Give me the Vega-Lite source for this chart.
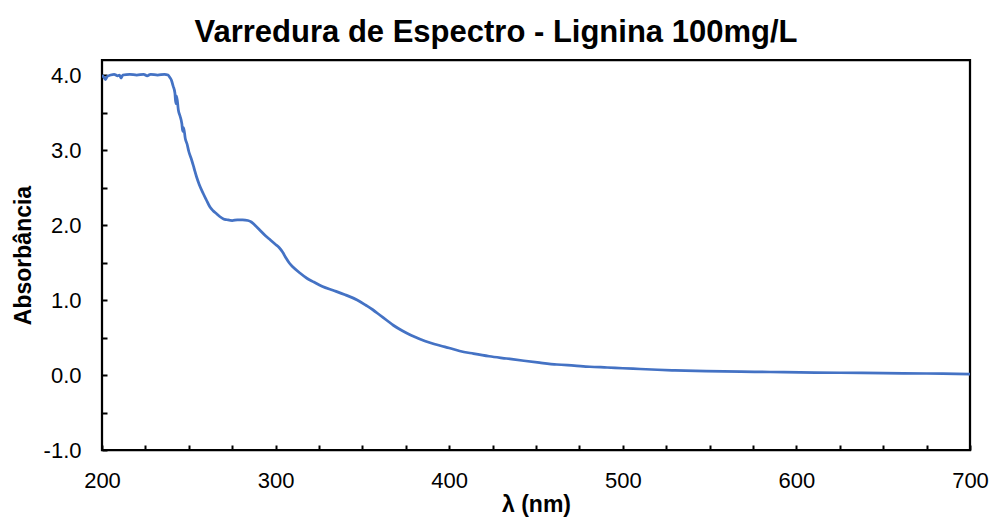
{
  "$schema": "https://vega.github.io/schema/vega-lite/v6.json",
  "width": 868,
  "height": 390,
  "autosize": "none",
  "padding": {"left": 102, "top": 60, "right": 22, "bottom": 68},
  "background": "white",
  "title": {
    "text": "Varredura de Espectro - Lignina 100mg/L",
    "font": "Liberation Sans",
    "fontSize": 31,
    "fontWeight": "bold",
    "color": "black",
    "anchor": "middle",
    "offset": 11,
    "dx": -40
  },
  "config": {
    "view": {"stroke": "black", "strokeWidth": 2.25},
    "axis": {
      "domain": false,
      "grid": false,
      "ticks": true,
      "tickSize": -5,
      "tickWidth": 2,
      "tickColor": "black",
      "labelFont": "Liberation Sans",
      "labelFontSize": 22,
      "labelColor": "black",
      "labelOverlap": false,
      "labelBound": false,
      "titleFont": "Liberation Sans",
      "titleFontSize": 23,
      "titleFontWeight": "bold",
      "titleColor": "black"
    }
  },
  "data": {
    "values": [
      {"wavelength": 200, "absorbance": 4.0},
      {"wavelength": 201, "absorbance": 3.97},
      {"wavelength": 202, "absorbance": 3.94},
      {"wavelength": 203, "absorbance": 3.98},
      {"wavelength": 205, "absorbance": 4.0},
      {"wavelength": 207, "absorbance": 4.01},
      {"wavelength": 209, "absorbance": 3.99},
      {"wavelength": 210, "absorbance": 4.0},
      {"wavelength": 211, "absorbance": 3.96},
      {"wavelength": 212, "absorbance": 4.0},
      {"wavelength": 216, "absorbance": 4.01},
      {"wavelength": 220, "absorbance": 4.0},
      {"wavelength": 224, "absorbance": 4.01},
      {"wavelength": 226, "absorbance": 3.99},
      {"wavelength": 228, "absorbance": 4.01},
      {"wavelength": 232, "absorbance": 4.0},
      {"wavelength": 236, "absorbance": 4.01},
      {"wavelength": 238, "absorbance": 4.0},
      {"wavelength": 239, "absorbance": 3.97},
      {"wavelength": 240, "absorbance": 3.93},
      {"wavelength": 241, "absorbance": 3.85},
      {"wavelength": 242, "absorbance": 3.76},
      {"wavelength": 242.5, "absorbance": 3.62},
      {"wavelength": 243, "absorbance": 3.72},
      {"wavelength": 244, "absorbance": 3.53},
      {"wavelength": 245, "absorbance": 3.45},
      {"wavelength": 246, "absorbance": 3.35},
      {"wavelength": 246.5, "absorbance": 3.25},
      {"wavelength": 247, "absorbance": 3.3},
      {"wavelength": 248, "absorbance": 3.15},
      {"wavelength": 249, "absorbance": 3.08},
      {"wavelength": 250, "absorbance": 2.98},
      {"wavelength": 251.6, "absorbance": 2.87},
      {"wavelength": 253, "absorbance": 2.76},
      {"wavelength": 254.5, "absorbance": 2.64},
      {"wavelength": 256, "absorbance": 2.54},
      {"wavelength": 258.3, "absorbance": 2.42},
      {"wavelength": 260, "absorbance": 2.34},
      {"wavelength": 262.2, "absorbance": 2.24},
      {"wavelength": 264, "absorbance": 2.19},
      {"wavelength": 266, "absorbance": 2.15},
      {"wavelength": 268, "absorbance": 2.11},
      {"wavelength": 270, "absorbance": 2.08},
      {"wavelength": 272, "absorbance": 2.07},
      {"wavelength": 275, "absorbance": 2.06},
      {"wavelength": 278, "absorbance": 2.07},
      {"wavelength": 281, "absorbance": 2.07},
      {"wavelength": 284, "absorbance": 2.06},
      {"wavelength": 286, "absorbance": 2.04},
      {"wavelength": 288, "absorbance": 2.0},
      {"wavelength": 291, "absorbance": 1.93},
      {"wavelength": 294, "absorbance": 1.86},
      {"wavelength": 297, "absorbance": 1.8},
      {"wavelength": 300, "absorbance": 1.74},
      {"wavelength": 302, "absorbance": 1.7},
      {"wavelength": 304, "absorbance": 1.64},
      {"wavelength": 306, "absorbance": 1.56},
      {"wavelength": 308, "absorbance": 1.49},
      {"wavelength": 310, "absorbance": 1.44},
      {"wavelength": 314, "absorbance": 1.36},
      {"wavelength": 318, "absorbance": 1.29},
      {"wavelength": 322, "absorbance": 1.24},
      {"wavelength": 327, "absorbance": 1.18},
      {"wavelength": 333, "absorbance": 1.13},
      {"wavelength": 340, "absorbance": 1.07},
      {"wavelength": 347, "absorbance": 1.0},
      {"wavelength": 352, "absorbance": 0.93},
      {"wavelength": 356, "absorbance": 0.87},
      {"wavelength": 360, "absorbance": 0.8},
      {"wavelength": 364, "absorbance": 0.73},
      {"wavelength": 368, "absorbance": 0.66},
      {"wavelength": 373, "absorbance": 0.59},
      {"wavelength": 378, "absorbance": 0.53},
      {"wavelength": 383, "absorbance": 0.48},
      {"wavelength": 389, "absorbance": 0.43},
      {"wavelength": 395, "absorbance": 0.39},
      {"wavelength": 400, "absorbance": 0.36},
      {"wavelength": 406, "absorbance": 0.32},
      {"wavelength": 414, "absorbance": 0.285},
      {"wavelength": 423, "absorbance": 0.25},
      {"wavelength": 433, "absorbance": 0.22},
      {"wavelength": 443, "absorbance": 0.19},
      {"wavelength": 452, "absorbance": 0.165},
      {"wavelength": 462, "absorbance": 0.14},
      {"wavelength": 472, "absorbance": 0.125},
      {"wavelength": 481, "absorbance": 0.11},
      {"wavelength": 491, "absorbance": 0.1},
      {"wavelength": 500, "absorbance": 0.09},
      {"wavelength": 510, "absorbance": 0.08},
      {"wavelength": 520, "absorbance": 0.07},
      {"wavelength": 530, "absorbance": 0.062},
      {"wavelength": 548, "absorbance": 0.052},
      {"wavelength": 568, "absorbance": 0.045},
      {"wavelength": 585, "absorbance": 0.04},
      {"wavelength": 602, "absorbance": 0.035},
      {"wavelength": 625, "absorbance": 0.03},
      {"wavelength": 650, "absorbance": 0.025},
      {"wavelength": 675, "absorbance": 0.02},
      {"wavelength": 700, "absorbance": 0.013}
    ]
  },
  "mark": {"type": "line", "color": "#4472C4", "strokeWidth": 2.75, "interpolate": "monotone", "clip": true},
  "encoding": {
    "x": {
      "field": "wavelength",
      "type": "quantitative",
      "scale": {"domain": [200, 700], "nice": false, "zero": false},
      "axis": {
        "title": "λ (nm)",
        "values": [200, 225, 250, 275, 300, 325, 350, 375, 400, 425, 450, 475, 500, 525, 550, 575, 600, 625, 650, 675, 700],
        "labelExpr": "datum.value % 100 === 0 ? format(datum.value, 'd') : ''",
        "labelFlush": false,
        "labelPadding": 25,
        "titlePadding": 2
      }
    },
    "y": {
      "field": "absorbance",
      "type": "quantitative",
      "scale": {"domain": [-1, 4.2], "nice": false, "zero": false},
      "axis": {
        "title": "Absorbância",
        "values": [-1, -0.5, 0, 0.5, 1, 1.5, 2, 2.5, 3, 3.5, 4],
        "labelExpr": "datum.value % 1 !== 0 ? '' : (datum.value < 0 ? '-' + format(-datum.value, '.1f') : format(datum.value, '.1f'))",
        "labelPadding": 26,
        "titlePadding": 8
      }
    }
  }
}
